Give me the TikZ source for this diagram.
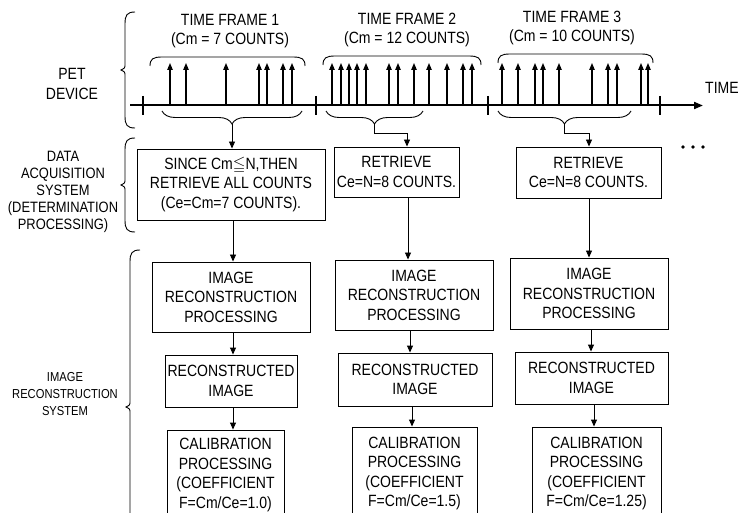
\documentclass[tikz,border=0pt]{standalone}
\usepackage{fontspec}
\usepackage{amssymb}
\setmainfont{Liberation Sans}[FakeStretch=0.86]
\usetikzlibrary{arrows.meta,decorations.pathreplacing,calc}
\newcommand{\fsz}{\fontsize{16.3}{19.5}\selectfont}
\newcommand{\fszb}{\fontsize{15}{17}\selectfont}
\newcommand{\fszc}{\fontsize{13}{17}\selectfont}
\begin{document}
\begin{tikzpicture}[x=1pt,y=-1pt,
  box/.style={draw, line width=0.9pt, inner sep=0pt, align=center, font=\fsz},
  lbl/.style={align=center, inner sep=0pt},
  arr/.style={-{Triangle[length=7pt,width=6pt]}, line width=0.9pt},
  cnt/.style={-{Triangle[length=7pt,width=5.5pt]}, line width=1.1pt},
  brc/.style={line width=0.9pt},
  lbrace/.style={decorate, decoration={brace,amplitude=13pt}, line width=0.9pt}]
\useasboundingbox (0,0) rectangle (739,513);

% ---------- left labels ----------
\node[lbl, font=\fsz] (pet) at (72,84) {PET\\DEVICE};
\node[lbl, font=\fszb] (daqlbl) at (63,192) {DATA\\ACQUISITION\\SYSTEM\\(DETERMINATION\\PROCESSING)};
\node[lbl, font=\fszc] (irslbl) at (65,394) {IMAGE\\RECONSTRUCTION\\SYSTEM};

% ---------- left braces ----------
\draw[brc] (135,12) .. controls (127,12) and (125,15) .. (125,24) -- (125,64)
  .. controls (125,68) .. (121,70) .. controls (125,72) .. (125,76) -- (125,116)
  .. controls (125,125) and (127,128) .. (135,128);
\draw[brc] (135,138) .. controls (127,138) and (125,141) .. (125,150) -- (125,179)
  .. controls (125,183) .. (121,185) .. controls (125,187) .. (125,191) -- (125,220)
  .. controls (125,229) and (127,232) .. (135,232);
\draw[brc] (140,250) .. controls (132,250) and (130,253) .. (130,262) -- (130,401)
  .. controls (130,405) .. (126,407) .. controls (130,409) .. (130,413) -- (130,530);

% ---------- time frame labels ----------
\node[lbl, font=\fsz] (tf1) at (230,31) {TIME FRAME 1\\(Cm = 7 COUNTS)};
\node[lbl, font=\fsz] (tf2) at (407,30) {TIME FRAME 2\\(Cm = 12 COUNTS)};
\node[lbl, font=\fsz] (tf3) at (572,28) {TIME FRAME 3\\(Cm = 10 COUNTS)};

% ---------- brackets over counts ----------
\draw[brc] (150,66) .. controls (150,59) and (153,57) .. (162,57) -- (293,57)
  .. controls (302,57) and (305,59) .. (305,66);
\draw[brc] (323,65) .. controls (323,58) and (326,56) .. (335,56) -- (469,56)
  .. controls (478,56) and (481,58) .. (481,65);
\draw[brc] (498,63) .. controls (498,56) and (501,54) .. (510,54) -- (641,54)
  .. controls (650,54) and (653,56) .. (653,63);

% ---------- timeline ----------
\coordinate (tl0) at (130,105.5);
\coordinate (tl1) at (703,105.5);
\draw[line width=2pt, -{Triangle[length=9pt,width=7pt]}] (tl0) -- (tl1);
\foreach \x in {143,316,488,660} \draw[line width=1.6pt] (\x,96) -- (\x,115);
\node[anchor=west, font=\fsz, inner sep=0pt] (time) at (705,88) {TIME};

% ---------- counts ----------
\foreach \x in {170,186,226,259,267,283,292,
                332,341,349,357,366,389,398,414,429,447,463,472,
                502,518,535,543,559,592,608,617,641,648}
  \draw[cnt] (\x,105.5) -- (\x,63);

% ---------- lower braces ----------
\draw[lbrace] (302,111) -- (162,111);
\draw[lbrace] (423,111) -- (326,111);
\draw[lbrace] (631,111) -- (498,111);
\coordinate (b1) at (232,124);
\coordinate (b2) at (374.5,124);
\coordinate (b3) at (564.5,124);
\coordinate (k2) at (407,0);
\coordinate (k3) at (589,0);

% ---------- data acquisition boxes ----------
\node[box, minimum width=188pt, minimum height=71pt] (daq1) at (231,184.5)
  {SINCE Cm$\leqq$N,THEN\\RETRIEVE ALL COUNTS\\(Ce=Cm=7 COUNTS).};
\node[box, minimum width=125pt, minimum height=50pt] (daq2) at (396.5,172)
  {RETRIEVE\\Ce=N=8 COUNTS.};
\node[box, minimum width=145pt, minimum height=51pt] (daq3) at (588.5,172.5)
  {RETRIEVE\\Ce=N=8 COUNTS.};
\foreach \x in {683,693,703} \fill (\x,147) circle (1.9pt);

\draw[arr] (b1) -- (b1 |- daq1.north);
\draw[arr] (b2) -- ++(0,9) -| (k2 |- daq2.north);
\draw[arr] (b3) -- ++(0,9) -| (k3 |- daq3.north);

% ---------- image reconstruction boxes ----------
\node[box, minimum width=158pt, minimum height=70pt] (irp1) at (231,297)
  {IMAGE\\RECONSTRUCTION\\PROCESSING};
\node[box, minimum width=158pt, minimum height=70pt] (irp2) at (414,295)
  {IMAGE\\RECONSTRUCTION\\PROCESSING};
\node[box, minimum width=158pt, minimum height=71pt] (irp3) at (589,293.5)
  {IMAGE\\RECONSTRUCTION\\PROCESSING};

\node[box, minimum width=132pt, minimum height=52pt] (ri1) at (231,381)
  {RECONSTRUCTED\\IMAGE};
\node[box, minimum width=154pt, minimum height=53pt] (ri2) at (415,379.5)
  {RECONSTRUCTED\\IMAGE};
\node[box, minimum width=153pt, minimum height=52pt] (ri3) at (591.5,378)
  {RECONSTRUCTED\\IMAGE};

\node[box, minimum width=117pt, minimum height=90pt] (cal1) at (225.5,475)
  {CALIBRATION\\PROCESSING\\(COEFFICIENT\\F=Cm/Ce=1.0)};
\node[box, minimum width=125pt, minimum height=93pt] (cal2) at (414.5,473.5)
  {CALIBRATION\\PROCESSING\\(COEFFICIENT\\F=Cm/Ce=1.5)};
\node[box, minimum width=129pt, minimum height=93pt] (cal3) at (596.5,473.5)
  {CALIBRATION\\PROCESSING\\(COEFFICIENT\\F=Cm/Ce=1.25)};

% ---------- vertical connectors ----------
\coordinate (c1) at (233,0);
\coordinate (c2a) at (408,0);
\coordinate (c2b) at (410,0);
\coordinate (c2c) at (412,0);
\coordinate (c3a) at (589,0);
\coordinate (c3b) at (591,0);
\coordinate (c3c) at (594,0);
\draw[arr] (c1 |- daq1.south) -- (c1 |- irp1.north);
\draw[arr] (c1 |- irp1.south) -- (c1 |- ri1.north);
\draw[arr] (c1 |- ri1.south) -- (c1 |- cal1.north);
\draw[arr] (c2a |- daq2.south) -- (c2a |- irp2.north);
\draw[arr] (c2b |- irp2.south) -- (c2b |- ri2.north);
\draw[arr] (c2c |- ri2.south) -- (c2c |- cal2.north);
\draw[arr] (c3a |- daq3.south) -- (c3a |- irp3.north);
\draw[arr] (c3b |- irp3.south) -- (c3b |- ri3.north);
\draw[arr] (c3c |- ri3.south) -- (c3c |- cal3.north);
\end{tikzpicture}
\end{document}
